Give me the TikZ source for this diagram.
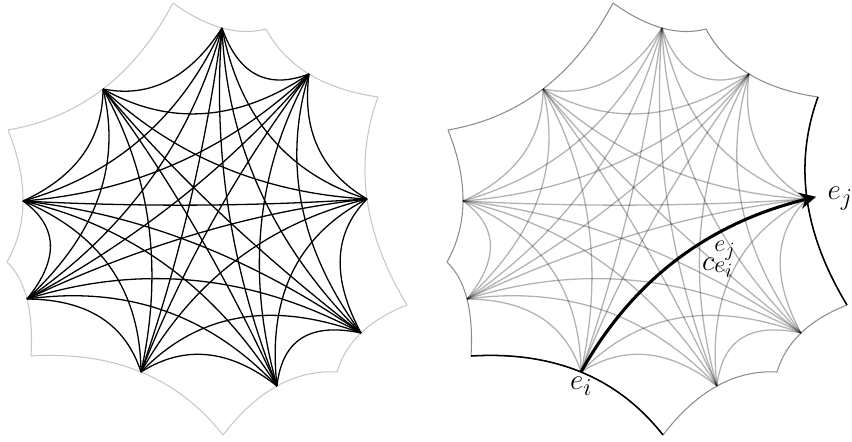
\documentclass[tikz,border=0pt]{standalone}
\usetikzlibrary{calc,arrows.meta}
\tikzset{
  rim/.style={line width=0.9pt},
  chord/.style={line width=1.1pt},
}
\begin{document}
\begin{tikzpicture}[x=0.03cm,y=-0.03cm,font=\Huge]
\useasboundingbox (0,0) rectangle (852,441);
\foreach \f/\dx/\lc/\rc/\op in {l/0/black/black!22/1,r/440/black/black!45/0.3}{
  \begin{scope}[shift={(\dx,0)}]
    \coordinate (o\f) at (200,212);
    \foreach \n/\x/\y in {1/222/28,2/309/74,3/367/199,4/361/333,5/277/386,6/141/372,7/27/299,8/23/201,9/103/89}
      \coordinate (v\f\n) at (\x,\y);
    \foreach \n/\x/\y in {1/173/3,2/266/29,3/378/97,4/407/305,5/337/372,6/223/435,7/31/356,8/7/262,9/8/130}
      \coordinate (c\f\n) at (\x,\y);
  \end{scope}
  % outer rim
  \foreach \k in {1,...,9}{
    \pgfmathtruncatemacro\nx{mod(\k,9)+1}
    \coordinate (k) at ($(c\f\k)!.5!(c\f\nx)!2!(v\f\k)$);
    \draw[rim,draw=\rc] (c\f\k) .. controls ($(c\f\k)!2/3!(k)$) and ($(c\f\nx)!2/3!(k)$) .. (c\f\nx);
  }
  % every pair of points
  \foreach \i in {1,...,8}{
    \pgfmathtruncatemacro\s{\i+1}
    \foreach \j in {\s,...,9}{
      \pgfmathtruncatemacro\m{min(\j-\i,9-\j+\i)}
      \pgfmathsetmacro\pull{{0,0.29,0.49,0.68,0.85}[\m]}
      \coordinate (k) at ($(v\f\i)!.5!(v\f\j)!\pull!(o\f)$);
      \draw[chord,draw=\lc,opacity=\op] (v\f\i) .. controls ($(v\f\i)!2/3!(k)$) and ($(v\f\j)!2/3!(k)$) .. (v\f\j);
    }
  }
}
\foreach \k/\nx in {3/4,6/7}{
  \coordinate (k) at ($(cr\k)!.5!(cr\nx)!2!(vr\k)$);
  \draw[line width=1.3pt] (cr\k) .. controls ($(cr\k)!2/3!(k)$) and ($(cr\nx)!2/3!(k)$) .. (cr\nx);
}
\coordinate (k) at ($(vr6)!.5!(vr3)!0.68!(or)$);
\draw[line width=2.6pt,-{Stealth[length=14pt,width=14pt]},shorten >=-8pt] (vr6) .. controls ($(vr6)!2/3!(k)$) and ($(vr3)!2/3!(k)$) .. (vr3);
\node[below=1pt] (ei) at (vr6) {$e_i$};
\node[right=14pt] (ej) at (vr3) {$e_j$};
\node (ce) at (719,259) {$c_{e_i}^{e_j\rule[-7pt]{0pt}{0pt}}$};
\end{tikzpicture}
\end{document}
